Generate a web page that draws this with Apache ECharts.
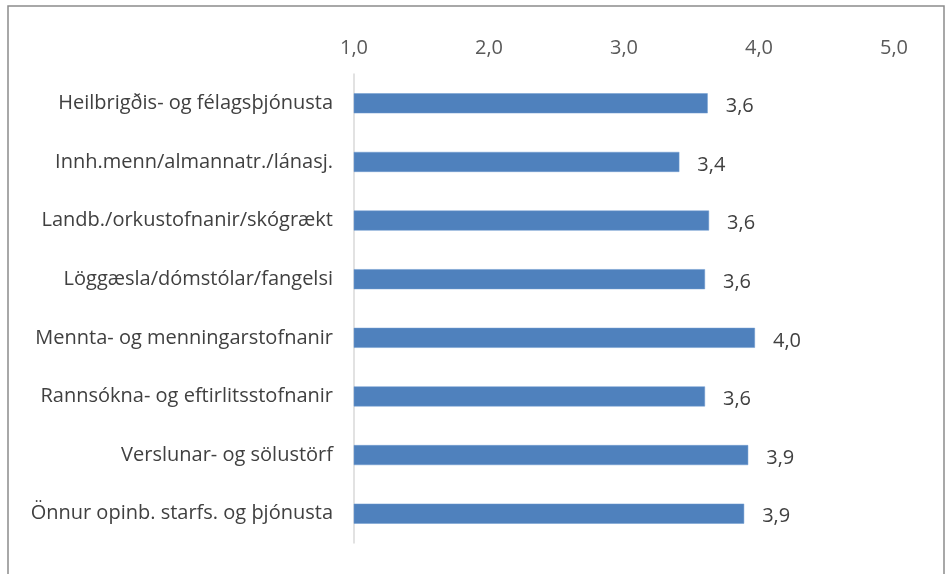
<!DOCTYPE html>
<html>
<head>
<meta charset="utf-8">
<script src="https://cdn.jsdelivr.net/npm/echarts@6/dist/echarts.min.js"></script>
<style>
html,body{margin:0;padding:0;background:#fff;}
#chart{width:949px;height:574px;}
</style>
</head>
<body>
<div id="chart"></div>
<script>
// flokkar (efst til neðst)
var categories = ['Heilbrigðis- og félagsþjónusta', 'Innh.menn/almannatr./lánasj.', 'Landb./orkustofnanir/skógrækt',
    'Löggæsla/dómstólar/fangelsi', 'Mennta- og menningarstofnanir', 'Rannsókna- og eftirlitsstofnanir',
    'Verslunar- og sölustörf', 'Önnur opinb. starfs. og þjónusta'];
var values = [3.62, 3.41, 3.63, 3.60, 3.97, 3.60, 3.92, 3.89];
var ticks = [1, 2, 3, 4, 5];

var fnt = '"Open Sans", sans-serif';
function komma(v) { return v.toFixed(1).replace('.', ','); }

var chart = echarts.init(document.getElementById('chart'));
var option = {
    animation: false,
    grid: { left: 354, right: 55, top: 74, bottom: 31, containLabel: false },
    graphic: [{
        type: 'rect',
        shape: { x: 8, y: 6, width: 936, height: 600 },
        style: { fill: 'none', stroke: '#8c8c8c', lineWidth: 1.5 }
    }],
    xAxis: {
        type: 'value',
        position: 'top',
        min: ticks[0],
        max: ticks[ticks.length - 1],
        interval: 1,
        axisLine: { show: false },
        axisTick: { show: false },
        splitLine: { show: false },
        axisLabel: {
            margin: 16,
            color: '#595959',
            fontSize: 20,
            fontFamily: fnt,
            formatter: function (v) { return komma(v); }
        }
    },
    yAxis: {
        type: 'category',
        inverse: true,
        data: categories,
        axisLine: { show: true, lineStyle: { color: '#d9d9d9', width: 1.5 } },
        axisTick: { show: false },
        axisLabel: {
            margin: 21,
            color: '#404040',
            fontSize: 20,
            fontFamily: fnt
        }
    },
    series: [{
        type: 'bar',
        data: values,
        barWidth: 20,
        itemStyle: { color: '#4f81bd', borderColor: '#6f9ad1', borderWidth: 0.5 },
        label: {
            show: true,
            position: 'right',
            distance: 18,
            offset: [0, 3],
            color: '#404040',
            fontSize: 20,
            fontFamily: fnt,
            formatter: function (p) { return komma(p.value); }
        }
    }]
};
chart.setOption(option);
</script>
</body>
</html>
